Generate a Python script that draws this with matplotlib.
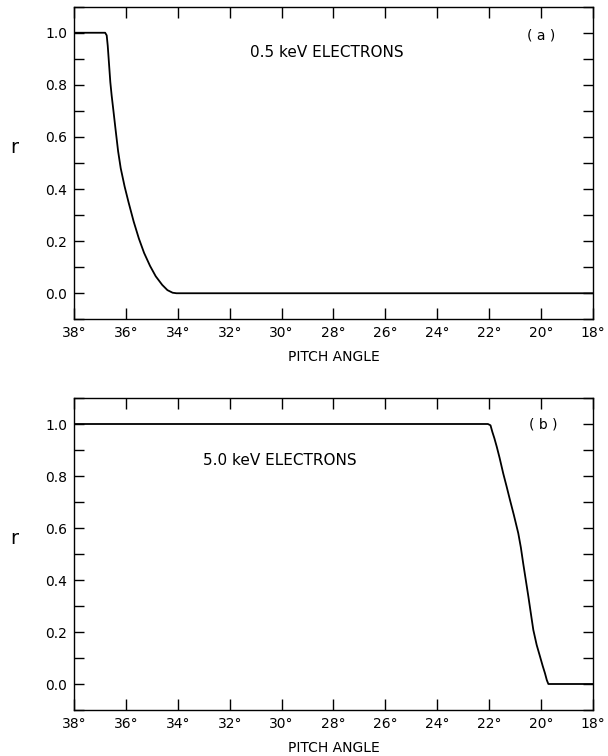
import matplotlib
matplotlib.use("Agg")
import matplotlib.pyplot as plt
from matplotlib.ticker import MultipleLocator

# Panel (a): 0.5 keV electrons
angle_a = [38.0, 36.80, 36.74, 36.70, 36.65, 36.60, 36.55, 36.48, 36.40, 36.30, 36.20,
           36.05, 35.90, 35.70, 35.50, 35.30, 35.07, 34.85, 34.60, 34.40, 34.20, 34.05, 18.0]
r_a     = [1.0,  1.0,   0.99,  0.95,  0.88,  0.81,  0.76,  0.70,  0.63,  0.545, 0.48,
           0.41,  0.35,  0.275, 0.21,  0.155, 0.105, 0.065, 0.032, 0.012, 0.002, 0.0,   0.0]

# Panel (b): 5.0 keV electrons
angle_b = [38.0, 22.05, 21.95, 21.88, 21.80, 21.71, 21.60, 21.46, 21.33, 21.20, 21.05,
           20.88, 20.78, 20.69, 20.59, 20.49, 20.40, 20.30, 20.17, 20.04, 19.94, 19.85,
           19.78, 19.72, 18.0]
r_b     = [1.0,  1.0,   0.995, 0.97,  0.945, 0.913, 0.87,  0.81,  0.76,  0.708, 0.65,
           0.58,  0.525, 0.464, 0.40,  0.336, 0.275, 0.208, 0.15,  0.105, 0.07,  0.041,
           0.015, 0.0,   0.0]

x_ticks = [38, 36, 34, 32, 30, 28, 26, 24, 22, 20, 18]
x_tick_labels = [f"{t}°" for t in x_ticks]
y_ticks = [0.0, 0.2, 0.4, 0.6, 0.8, 1.0]
y_tick_labels = [f"{t:.1f}" for t in y_ticks]

labels = ["0.5 keV ELECTRONS", "5.0 keV ELECTRONS"]
panel_tags = ["( a )", "( b )"]

plt.rcParams['font.family'] = ['DejaVu Sans']

fig = plt.figure(figsize=(6.08, 7.56), dpi=100)
W, H = 608, 756
ax_a = fig.add_axes([74 / W, 1 - 319.3 / H, 519 / W, 312.6 / H])
ax_b = fig.add_axes([74 / W, 1 - 710 / H, 519 / W, 312 / H])

def style(ax):
    ax.set_xlim(38, 18)
    ax.set_ylim(-0.1, 1.1)
    ax.set_xticks(x_ticks)
    ax.set_xticklabels(x_tick_labels, fontsize=10)
    ax.set_yticks(y_ticks)
    ax.set_yticklabels(y_tick_labels, fontsize=10)
    ax.yaxis.set_minor_locator(MultipleLocator(0.1))
    ax.tick_params(axis='x', which='major', direction='in', length=8, width=1.0,
                   top=True, bottom=True, pad=5)
    ax.tick_params(axis='y', which='both', direction='in', length=7, width=1.0,
                   left=True, right=True, pad=5)
    ax.tick_params(axis='x', which='minor', bottom=False, top=False)
    for s in ax.spines.values():
        s.set_linewidth(1.0)
    ax.set_xlabel("PITCH ANGLE", fontsize=10, labelpad=7)
    ax.set_ylabel("r", fontsize=14, rotation=0, labelpad=0)
    ax.yaxis.set_label_coords(-0.115, 0.52)

ax_a.plot(angle_a, r_a, color='black', lw=1.3)
style(ax_a)
ax_a.text(31.22, 0.924, labels[0], fontsize=11, ha='left', va='center')
ax_a.text(19.98, 0.99, panel_tags[0], fontsize=10, ha='center', va='center')

ax_b.plot(angle_b, r_b, color='black', lw=1.3)
style(ax_b)
ax_b.text(33.03, 0.859, labels[1], fontsize=11, ha='left', va='center')
ax_b.text(19.92, 1.0, panel_tags[1], fontsize=10, ha='center', va='center')

fig.savefig("out.png", dpi=100)
